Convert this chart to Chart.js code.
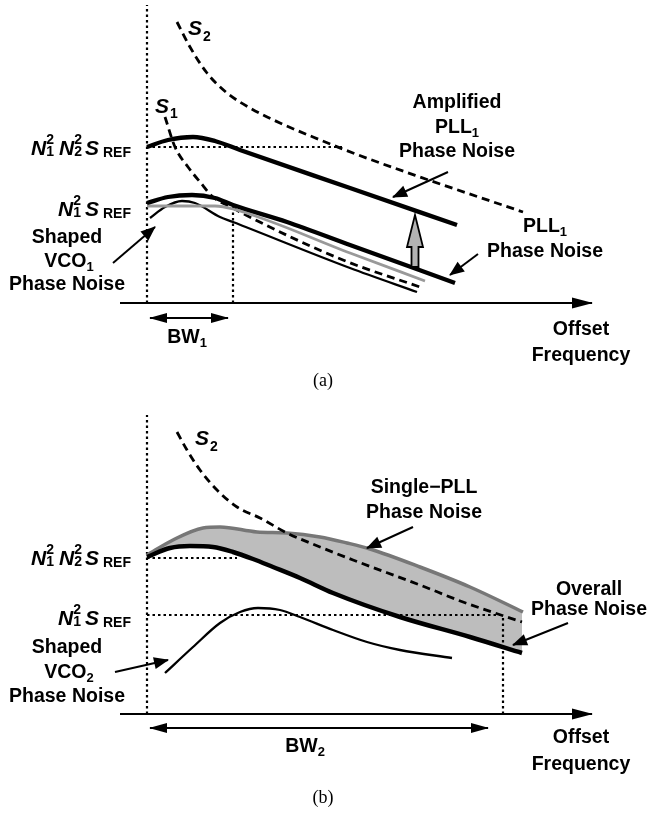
<!DOCTYPE html>
<html>
<head>
<meta charset="utf-8">
<script src="https://cdn.jsdelivr.net/npm/chart.js@4.4.1/dist/chart.umd.min.js"></script>
<style>
  body { margin: 0; background: #fff; }
  canvas { position: absolute; left: 0; }
  #chart-a { top: 0; }
  #chart-b { top: 400px; }
</style>
</head>
<body>
<canvas id="chart-a" width="649" height="400"></canvas>
<canvas id="chart-b" width="649" height="414"></canvas>
<script>
// x = offset frequency, y = noise level above the axis (arbitrary units)

// ---- (a) ----
var s2A        = [[30,281],[43,256],[60,230],[80,210],[103,195],[133,180],[166,166],[206,150],[273,126],[376,91]];
var s1A        = [[18,186],[28,156],[41,136],[53,121],[66,106],[86,95],[93,91],[196,43],[273,16]];
var amplified  = [[0,156],[21,163],[46,166],[68,162],[93,153],[203,115],[310,78]];
var pll1Noise  = [[0,100],[21,106],[45,108],[68,105],[86,98],[140,81],[203,58],[308,20]];
var pll1Gray   = [[0,97],[68,97],[86,94],[203,50],[278,22]];
var vco1Shaped = [[3,85],[18,96],[35,102],[48,100],[73,86],[86,81],[203,35],[270,11]];
var refA       = [[0,156],[196,156]];
var bw1Mark    = [[86,0],[86,96]];
var bw1Span    = [[3,-15],[81,-15]];

// ---- (b) ----
var s2B        = [[30,282],[40,264],[53,244],[70,224],[90,207],[113,196],[140,181],[173,167],[206,154],[273,129],[316,112],[375,92]];
var singlePll  = [[0,159],[26,174],[56,186],[73,187],[110,182],[140,181],[173,177],[200,171],[223,165],[273,147],[323,127],[376,102]];
var overall    = [[0,157],[23,166],[43,168],[66,167],[86,162],[106,155],[126,147],[153,136],[186,121],[253,97],[323,77],[375,61]];
var vco2Shaped = [[18,41],[46,67],[73,91],[93,102],[111,106],[133,104],[153,97],[186,84],[220,72],[253,64],[305,56]];
var refB1      = [[0,156],[90,156]];
var refB2      = [[0,99],[356,99]];
var bw2Mark    = [[356,0],[356,99]];
var bw2Span    = [[3,-14],[341,-14]];

var axisA = [[-27,0],[445,0]];
var axisB = [[-27,0],[445,0]];
var yAxisA = [[0,0],[0,298]];
var yAxisB = [[0,0],[0,299]];

var FONT = "'Liberation Sans', Arial, Helvetica, sans-serif";

function pts(a) { return a.map(function (p) { return { x: p[0], y: p[1] }; }); }

function line(data, color, width, extra) {
  return Object.assign({ data: pts(data), borderColor: color, borderWidth: width,
    pointRadius: 0, fill: false, tension: 0, borderCapStyle: 'butt' }, extra || {});
}
function curve(data, color, width, extra) {
  return line(data, color, width, Object.assign({ tension: 0.4, cubicInterpolationMode: 'monotone' }, extra || {}));
}
var DOT = [2.5, 3], DASH = [8, 5];

// arrow heads at the ends of a dataset's line
var arrowHeads = {
  id: 'arrowHeads',
  afterDatasetsDraw: function (chart) {
    var ctx = chart.ctx;
    chart.data.datasets.forEach(function (ds, i) {
      if (!ds.arrow) return;
      var p = chart.getDatasetMeta(i).data, n = p.length;
      head(ctx, p[n - 2], p[n - 1], ds);
      if (ds.arrow === 'both') head(ctx, p[1], p[0], ds);
    });
  }
};
function head(ctx, a, b, ds) {
  var ang = Math.atan2(b.y - a.y, b.x - a.x), L = ds.headLen || 14, W = ds.headW || 6;
  ctx.save();
  ctx.translate(b.x, b.y); ctx.rotate(ang);
  ctx.beginPath(); ctx.moveTo(1, 0); ctx.lineTo(-L, -W); ctx.lineTo(-L, W); ctx.closePath();
  ctx.fillStyle = ds.borderColor; ctx.fill();
  ctx.restore();
}

// hollow grey block arrow
var blockArrow = {
  id: 'blockArrow',
  afterDatasetsDraw: function (chart, args, opts) {
    (opts.items || []).forEach(function (b) {
      var ctx = chart.ctx, sx = chart.scales.x, sy = chart.scales.y;
      var x = sx.getPixelForValue(b.x), y0 = sy.getPixelForValue(b.from),
          yh = sy.getPixelForValue(b.neck), y1 = sy.getPixelForValue(b.to);
      ctx.save();
      ctx.beginPath();
      ctx.moveTo(x - 3.5, y0); ctx.lineTo(x - 3.5, yh); ctx.lineTo(x - 8, yh);
      ctx.lineTo(x, y1); ctx.lineTo(x + 8, yh); ctx.lineTo(x + 3.5, yh); ctx.lineTo(x + 3.5, y0);
      ctx.closePath();
      ctx.fillStyle = '#b3b3b3'; ctx.fill();
      ctx.lineWidth = 1.8; ctx.strokeStyle = '#000'; ctx.lineJoin = 'miter'; ctx.stroke();
      ctx.restore();
    });
  }
};

// text labels with sub / superscripts
var notes = {
  id: 'notes',
  afterDatasetsDraw: function (chart, args, opts) {
    var ctx = chart.ctx, sx = chart.scales.x, sy = chart.scales.y;
    (opts.items || []).forEach(function (it) {
      var runs = [], w = 0;
      it.parts.forEach(function (p) {
        if (typeof p === 'string') p = { t: p };
        if (p.gap) { w += p.gap; return; }
        if (p.ss) {
          ctx.font = 'bold 14px ' + FONT;
          var f = ctx.font;
          var ww = Math.max(ctx.measureText(p.ss[0]).width, ctx.measureText(p.ss[1]).width);
          runs.push({ t: p.ss[0], f: f, x: w, dy: -11 });
          runs.push({ t: p.ss[1], f: f, x: w, dy: 1 });
          w += ww; return;
        }
        var font = p.serif ? 'normal 18px "Liberation Serif", serif'
          : (p.it ? 'italic ' : '') + 'bold ' + (p.size || 19.5) + 'px ' + FONT;
        ctx.font = font;
        runs.push({ t: p.t, f: ctx.font, x: w, dy: p.dy || 0 });
        w += ctx.measureText(p.t).width;
      });
      var px = sx.getPixelForValue(it.x), py = sy.getPixelForValue(it.y);
      var x0 = it.align === 'right' ? px - w : it.align === 'left' ? px : px - w / 2;
      ctx.save();
      ctx.fillStyle = '#000'; ctx.textBaseline = 'alphabetic'; ctx.textAlign = 'left';
      runs.forEach(function (r) { ctx.font = r.f; ctx.fillText(r.t, x0 + r.x, py + r.dy); });
      ctx.restore();
    });
  }
};

var N = { t: 'N', it: 1, size: 21 }, S = { t: 'S', it: 1, size: 21 }, REF = { t: 'REF', size: 14, dy: 2 };
function sub(t) { return { t: t, size: 13, dy: 4 }; }
var n1n2 = [N, { ss: ['2', '1'] }, { gap: 5 }, N, { ss: ['2', '2'] }, { gap: 3 }, S, { gap: 4 }, REF];
var n1   = [N, { ss: ['2', '1'] }, { gap: 4 }, S, { gap: 4 }, REF];

function build(id, yMin, yMax, datasets, labels, blocks) {
  var n = datasets.length;
  datasets.forEach(function (d, i) { d.order = n - i; });
  return new Chart(document.getElementById(id), {
    type: 'line',
    data: { datasets: datasets },
    options: {
      responsive: false, animation: false, events: [],
      layout: { padding: 0 },
      scales: {
        x: { type: 'linear', min: -147, max: 502, display: false },
        y: { type: 'linear', min: yMin, max: yMax, display: false }
      },
      plugins: {
        legend: { display: false }, tooltip: { enabled: false },
        filler: { drawTime: 'beforeDatasetsDraw' },
        notes: { items: labels },
        blockArrow: { items: blocks || [] }
      }
    },
    plugins: [arrowHeads, blockArrow, notes]
  });
}

// ---------- chart (a) ----------
build('chart-a', -97, 303, [
  line(yAxisA, '#000', 2.2, { borderDash: DOT }),
  line(refA, '#000', 2.2, { borderDash: DOT }),
  line(bw1Mark, '#000', 2.2, { borderDash: DOT }),
  line(axisA, '#000', 2, { arrow: 'end', headLen: 20, headW: 5.5 }),
  line(bw1Span, '#000', 2.2, { arrow: 'both', headLen: 17, headW: 5 }),
  curve(s2A, '#000', 2.8, { borderDash: DASH }),
  curve(s1A, '#000', 2.8, { borderDash: DASH }),
  curve(vco1Shaped, '#000', 2.3),
  curve(pll1Gray, '#999', 2.8),
  curve(pll1Noise, '#000', 4.3),
  curve(amplified, '#000', 4.3),
  line([[301,131],[246,106]], '#000', 2, { arrow: 'end' }),
  line([[331,49],[303,28]], '#000', 2, { arrow: 'end' }),
  line([[-34,40],[8,76]], '#000', 2, { arrow: 'end' })
], [
  { x: 41, y: 268, align: 'left', parts: [S, { gap: 1 }, { t: '2', size: 14, dy: 6 }] },
  { x: 8, y: 190, align: 'left', parts: [S, { gap: 1 }, { t: '1', size: 14, dy: 5 }] },
  { x: -16, y: 148, align: 'right', parts: n1n2 },
  { x: -16, y: 87, align: 'right', parts: n1 },
  { x: 310, y: 195, parts: ['Amplified'] },
  { x: 310, y: 170, parts: ['PLL', sub('1')] },
  { x: 310, y: 146, parts: ['Phase Noise'] },
  { x: 398, y: 71, parts: ['PLL', sub('1')] },
  { x: 398, y: 46, parts: ['Phase Noise'] },
  { x: -80, y: 60, parts: ['Shaped'] },
  { x: -78, y: 36, parts: ['VCO', sub('1')] },
  { x: -80, y: 13, parts: ['Phase Noise'] },
  { x: 40, y: -40, parts: ['BW', sub('1')] },
  { x: 434, y: -32, parts: ['Offset'] },
  { x: 434, y: -58, parts: ['Frequency'] },
  { x: 176, y: -83, parts: [{ t: '(a)', serif: 1 }] }
], [
  { x: 268, from: 36, neck: 56, to: 88 }
]);

// ---------- chart (b) ----------
build('chart-b', -100, 314, [
  line(yAxisB, '#000', 2.2, { borderDash: DOT }),
  line(refB1, '#000', 2.2, { borderDash: DOT }),
  line(refB2, '#000', 2.2, { borderDash: DOT }),
  line(bw2Mark, '#000', 2.2, { borderDash: DOT }),
  line(axisB, '#000', 2, { arrow: 'end', headLen: 20, headW: 5.5 }),
  line(bw2Span, '#000', 2.2, { arrow: 'both', headLen: 17, headW: 5 }),
  curve(singlePll, '#777', 3.5, { fill: 8, backgroundColor: '#bdbdbd' }),
  curve(s2B, '#000', 2.8, { borderDash: DASH }),
  curve(overall, '#000', 4.5),
  curve(vco2Shaped, '#000', 2.3),
  line([[266,187],[220,166]], '#000', 2, { arrow: 'end' }),
  line([[421,91],[366,69]], '#000', 2, { arrow: 'end' }),
  line([[-32,42],[21,54]], '#000', 2, { arrow: 'end' })
], [
  { x: 48, y: 269, align: 'left', parts: [S, { gap: 1 }, { t: '2', size: 14, dy: 6 }] },
  { x: -16, y: 149, align: 'right', parts: n1n2 },
  { x: -16, y: 89, align: 'right', parts: n1 },
  { x: 277, y: 221, parts: ['Single\u2212PLL'] },
  { x: 277, y: 196, parts: ['Phase Noise'] },
  { x: 442, y: 119, parts: ['Overall'] },
  { x: 442, y: 99, parts: ['Phase Noise'] },
  { x: -80, y: 61, parts: ['Shaped'] },
  { x: -78, y: 36, parts: ['VCO', sub('2')] },
  { x: -80, y: 12, parts: ['Phase Noise'] },
  { x: 158, y: -38, parts: ['BW', sub('2')] },
  { x: 434, y: -29, parts: ['Offset'] },
  { x: 434, y: -56, parts: ['Frequency'] },
  { x: 176, y: -89, parts: [{ t: '(b)', serif: 1 }] }
]);
</script>
</body>
</html>
